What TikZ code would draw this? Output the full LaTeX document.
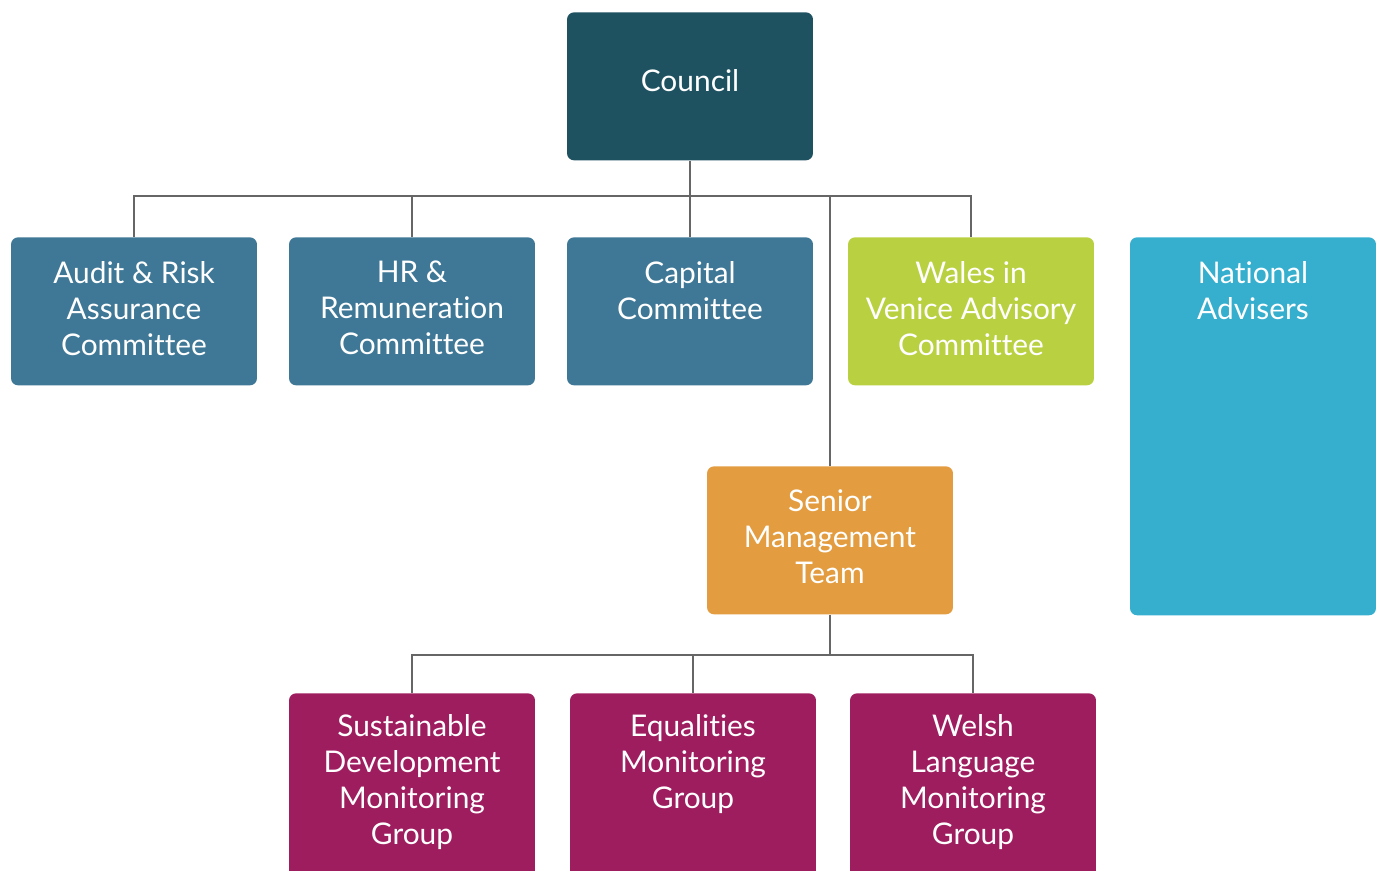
\documentclass[tikz,border=0pt]{standalone}
\usepackage{fontspec}
\setmainfont[Ligatures=NoCommon]{Lato}
\definecolor{councilblue}{HTML}{1F5261}
\definecolor{committeeblue}{HTML}{3F7896}
\definecolor{walesgreen}{HTML}{B9D141}
\definecolor{adviserblue}{HTML}{36AFCF}
\definecolor{smtorange}{HTML}{E39D40}
\definecolor{groupplum}{HTML}{9E1D5F}
\definecolor{linegray}{HTML}{666666}
\newcommand{\boxtext}[2][2.01cm]{\parbox[t][#1][t]{4.8cm}{\centering #2}}
\tikzset{
    box/.style={rectangle, rounded corners=4pt, inner sep=0pt, anchor=north,
        minimum width=4.92cm, minimum height=2.96cm, text=white,
        font=\fontsize{17}{20.5}\selectfont},
    link/.style={draw=linegray, line width=1.6pt}
}
\begin{document}
\begin{tikzpicture}[x=0.02cm,y=-0.02cm]
        \useasboundingbox (0,0) rectangle (1382,871);
        \clip (0,0) rectangle (1382,871);
        \begin{scope}[every node/.style={box}]
            % Council
            \node[fill=councilblue] (council) at (690,12) {\boxtext[0.67cm]{Council}};

            % Committees
            \node[fill=committeeblue] (audit) at (134,237) {\boxtext{Audit \& Risk\\Assurance\\Committee}};
            \node[fill=committeeblue] (hr) at (412,237) {\boxtext{HR \&\\Remuneration\\Committee}};
            \node[fill=committeeblue] (capital) at (690,237) {\boxtext{Capital\\Committee}};
            \node[fill=walesgreen] (wales) at (971,237) {\boxtext{Wales in\\Venice Advisory\\Committee}};
            \node[fill=adviserblue, minimum height=7.56cm] (advisers) at (1253,237) {\boxtext[6.61cm]{National\\Advisers}};

            % Senior Management Team
            \node[fill=smtorange] (smt) at (830,466) {\boxtext{Senior\\Management\\Team}};

            % Monitoring groups
            \node[fill=groupplum, minimum height=3.8cm] (sustain) at (412,693) {\boxtext[2.97cm]{Sustainable\\Development\\Monitoring\\Group}};
            \node[fill=groupplum, minimum height=3.8cm] (equal) at (693,693) {\boxtext[2.97cm]{Equalities\\Monitoring\\Group}};
            \node[fill=groupplum, minimum height=3.8cm] (welsh) at (973,693) {\boxtext[2.97cm]{Welsh\\Language\\Monitoring\\Group}};
        \end{scope}

        \coordinate (bus1) at (690,196);
        \coordinate (bus2) at (830,655);

        \path[link] (council.south) -- (bus1);
        \path[link] (bus1) -| (audit.north);
        \path[link] (bus1) -| (hr.north);
        \path[link] (bus1) -- (capital.north);
        \path[link] (bus1) -| (wales.north);
        \path[link] (bus1) -| (smt.north);

        \path[link] (smt.south) -- (bus2);
        \path[link] (bus2) -| (sustain.north);
        \path[link] (bus2) -| (equal.north);
        \path[link] (bus2) -| (welsh.north);
    \end{tikzpicture}
\end{document}
